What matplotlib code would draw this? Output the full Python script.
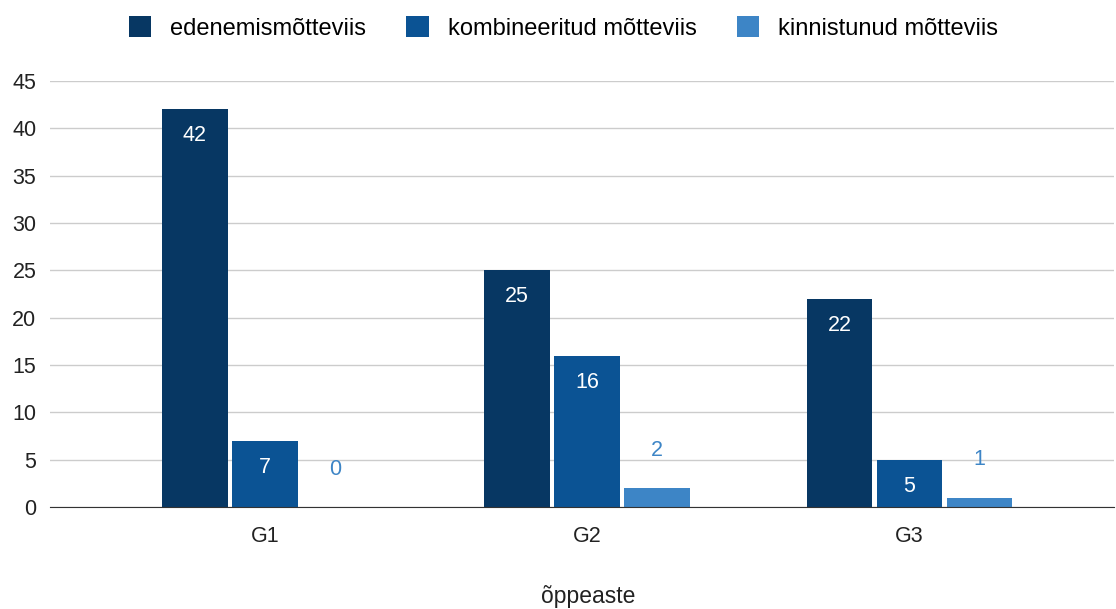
import numpy as np
import matplotlib
matplotlib.use('Agg')
import matplotlib.pyplot as plt
from matplotlib.patches import Patch

plt.rcParams['font.family'] = ['Liberation Sans', 'DejaVu Sans']

groups = ['G1', 'G2', 'G3']
series = ['edenemismõtteviis', 'kombineeritud mõtteviis', 'kinnistunud mõtteviis']
values = [
    [42, 25, 22],
    [7, 16, 5],
    [0, 2, 1],
]
colors = ['#073763', '#0b5394', '#3d85c6']

fig = plt.figure(figsize=(11.16, 6.09), dpi=100)
ax = fig.add_axes([0.045, 0.1675, 0.953, 0.6995])

fs = 15.5
x = np.arange(len(groups))
w = 0.204
step = 0.217
for i, (name, vals) in enumerate(zip(series, values)):
    pos = x + (i - 1) * step
    ax.bar(pos, vals, w, color=colors[i], label=name, zorder=3)
    for p, v in zip(pos, vals):
        if i < 2:
            ax.text(p, v - 2.8, str(v), ha='center', va='center', color='white', fontsize=fs, zorder=4)
        else:
            ax.text(p, v + 4.0, str(v), ha='center', va='center', color=colors[i], fontsize=fs, zorder=4)

ax.set_xlim(-0.666, 2.634)
ax.set_ylim(0, 45)
ax.set_yticks(np.arange(0, 46, 5))
ax.set_xticks(x)
ax.set_xticklabels(groups)
ax.grid(axis='y', color='#cccccc', linewidth=1, zorder=0)
for s in ['top', 'right', 'left']:
    ax.spines[s].set_visible(False)
ax.spines['bottom'].set_color('#333333')
ax.spines['bottom'].set_zorder(5)
ax.tick_params(axis='both', length=0, labelsize=fs, colors='#222222')
ax.tick_params(axis='y', pad=10)
ax.tick_params(axis='x', pad=14)
ax.set_xlabel('õppeaste', fontsize=16.5, color='#222222')
ax.xaxis.set_label_coords(0.527, 0.04, transform=fig.transFigure)

handles = [Patch(facecolor=c, label=n) for c, n in zip(colors, series)]
fig.legend(handles=handles, loc='center', bbox_to_anchor=(0.505, 0.954), ncol=3,
           frameon=False, fontsize=17, handlelength=0.95, handleheight=0.95,
           columnspacing=1.7, handletextpad=0.8)

fig.savefig('out.png', dpi=100)
